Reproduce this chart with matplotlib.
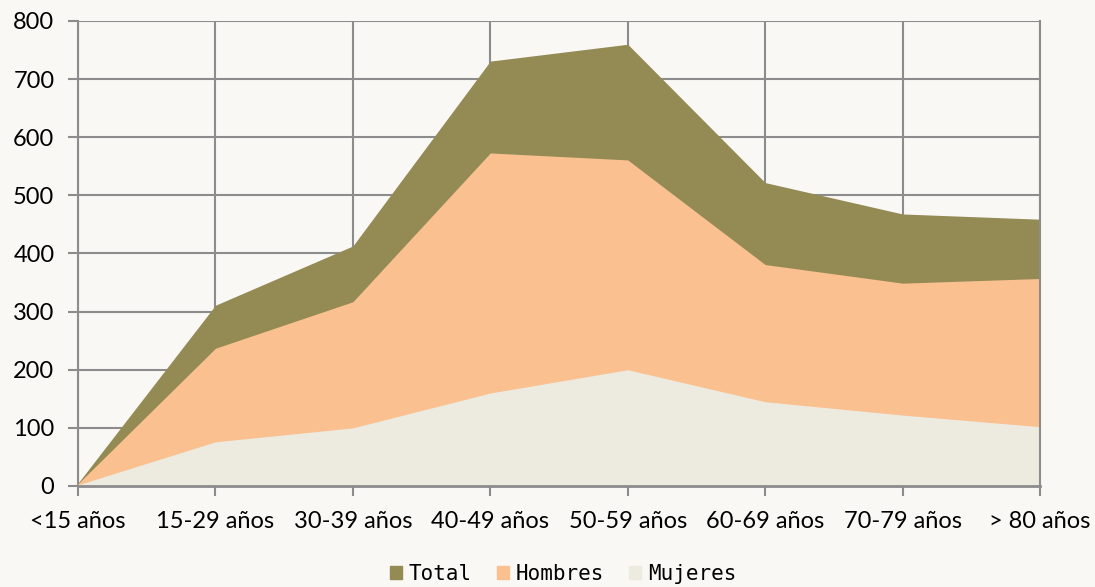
import matplotlib
matplotlib.use("Agg")
import matplotlib.pyplot as plt
from matplotlib.patches import Patch
import numpy as np

categories = ["<15 años", "15-29 años", "30-39 años", "40-49 años", "50-59 años",
              "60-69 años", "70-79 años", "> 80 años"]
total = [5, 311, 413, 731, 760, 522, 468, 459]
hombres = [4, 237, 317, 573, 561, 381, 349, 357]
mujeres = [2, 76, 100, 160, 200, 145, 122, 102]
yticks = [0, 100, 200, 300, 400, 500, 600, 700, 800]

bg = "#f9f8f4"
c_total = "#948a54"
c_hom = "#fac090"
c_muj = "#edeae0"
grid_c = "#8c8c8c"

fig = plt.figure(figsize=(10.95, 5.87), dpi=100, facecolor=bg)
ax = fig.add_axes([78/1095, 1-486/587, (1040-78)/1095, (486-21)/587])
ax.set_facecolor(bg)

x = np.arange(len(categories))
for vals, col, lab in [(total, c_total, "Total"), (hombres, c_hom, "Hombres"), (mujeres, c_muj, "Mujeres")]:
    ax.fill_between(x, 0, vals, color=col, lw=0, zorder=3, label=lab)

ax.set_xlim(0, len(categories)-1)
ax.set_ylim(0, 800)
ax.set_yticks(yticks)
ax.set_xticks(x)
ax.set_xticklabels(categories)
ax.grid(True, color=grid_c, lw=1.5, zorder=0)
ax.set_axisbelow(True)
for s in ["top"]:
    ax.spines[s].set_visible(False)
ax.spines["right"].set_color(grid_c)
ax.spines["right"].set_linewidth(1.5)
ax.spines["right"].set_zorder(4)
ax.spines["left"].set_color(grid_c)
ax.spines["left"].set_linewidth(1.5)
ax.spines["bottom"].set_color(grid_c)
ax.spines["bottom"].set_linewidth(2)
ax.spines["bottom"].set_zorder(4)
ax.tick_params(axis="both", colors=grid_c, width=1.5, length=7, labelcolor="black")
fnt = ["Lato", "DejaVu Sans"]
for lbl in ax.get_xticklabels() + ax.get_yticklabels():
    lbl.set_fontfamily(fnt)
    lbl.set_fontsize(17)
ax.tick_params(axis="x", pad=11)
ax.tick_params(axis="y", pad=10)

handles = [Patch(color=c_total), Patch(color=c_hom), Patch(color=c_muj)]
fig.legend(handles, ["Total", "Hombres", "Mujeres"], loc="center", bbox_to_anchor=(563/1095, 1-574/587),
           ncol=3, frameon=False, prop={"family": "DejaVu Sans Mono", "size": 15},
           handlelength=0.6, handleheight=0.6, handletextpad=0.3, columnspacing=1.2)

fig.savefig("out.png", dpi=100, facecolor=bg)
